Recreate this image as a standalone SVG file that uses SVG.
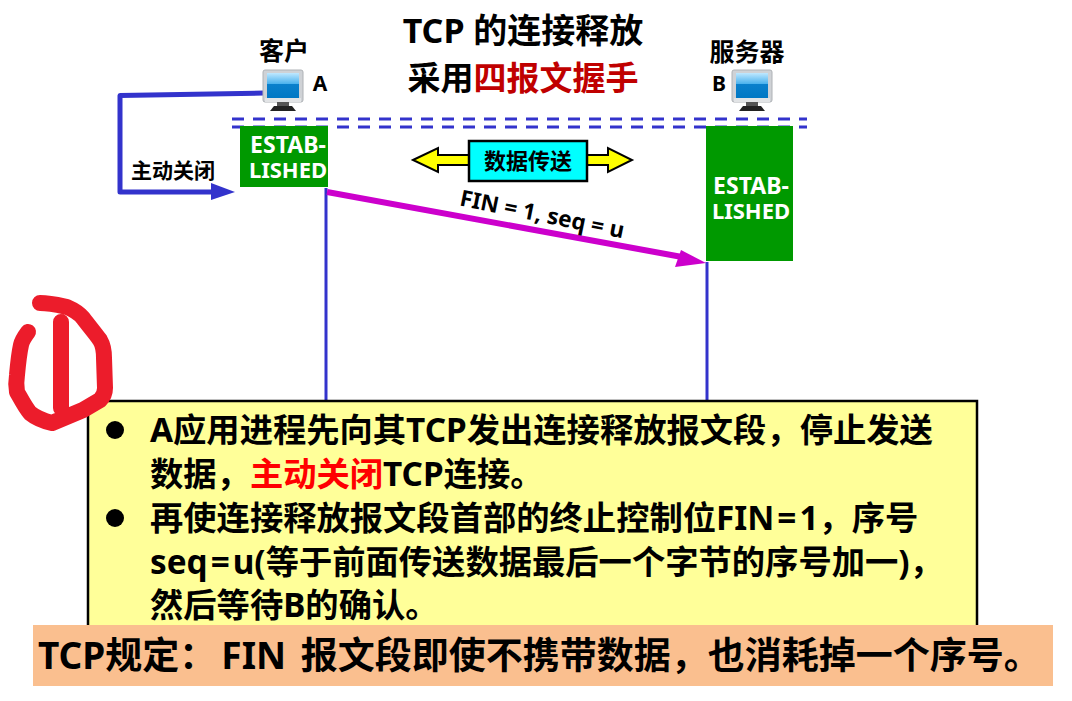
<svg xmlns="http://www.w3.org/2000/svg" width="1072" height="701" viewBox="0 0 1072 701">
<style>
text{font-family:"Noto Sans","Noto Sans CJK SC",sans-serif;font-weight:700;fill:#000}
.w{fill:#fff;font-size:22px}
.body{font-size:33.300px}
.red{fill:#f00}
.life{stroke:#3333cc;stroke-width:3;fill:none}
.dash{stroke:#3333cc;stroke-width:3;stroke-dasharray:12 9;fill:none}
.bul{fill:#000}
</style>
<defs>
<linearGradient id="scr" x1="0" y1="0" x2="0" y2="1"><stop offset="0" stop-color="#bfe8ff"/><stop offset="0.42" stop-color="#4fb4ee"/><stop offset="0.45" stop-color="#0a80cc"/><stop offset="1" stop-color="#0078c4"/></linearGradient>
<g id="pc">
<rect x="0" y="0" width="40" height="32" rx="2" fill="#cfd2d6" stroke="#aeb2b6"/>
<rect x="4" y="3" width="32" height="25" fill="url(#scr)"/>
<rect x="2" y="28" width="36" height="4" fill="#e2e4e6"/>
<rect x="14" y="32" width="12" height="4" fill="#555"/>
<path d="M7 41 L11 36 H29 L33 41 Z" fill="#222"/>
</g>
</defs>
<rect width="1072" height="701" fill="#fff"/>

<g id="title">
<text x="523" y="43" font-size="34" text-anchor="middle">TCP 的连接释放</text>
<text x="523" y="90" font-size="33" text-anchor="middle">采用<tspan fill="#c00000">四报文握手</tspan></text>
</g>

<g id="connectors">
<line class="dash" x1="232" y1="119" x2="807" y2="119"/>
<line class="dash" x1="232" y1="127" x2="807" y2="127"/>
<path class="life" d="M326 188 V401"/>
<path class="life" d="M707 262 V401"/>
<path d="M264 93 L120 95.500 V192 H212" fill="none" stroke="#3333cc" stroke-width="5" stroke-linejoin="round"/>
<path d="M211 183 L235 192 L211 200 Z" fill="#3333cc"/>
<path d="M327 192 L682 257" fill="none" stroke="#cc00cc" stroke-width="6"/>
<path d="M681 250 L706 263 L675 267 Z" fill="#cc00cc"/>
</g>

<g id="client">
<text x="284" y="60" font-size="25" text-anchor="middle">客户</text>
<use href="#pc" x="263" y="70"/>
<text x="320" y="91" font-size="21" text-anchor="middle">A</text>
</g>
<g id="server">
<text x="747" y="61" font-size="25" text-anchor="middle">服务器</text>
<use href="#pc" x="732" y="70"/>
<text x="719" y="91" font-size="21" text-anchor="middle">B</text>
</g>

<g id="state-a">
<rect x="240" y="126" width="88" height="61" fill="#009900"/>
<text class="w" x="288" y="153" text-anchor="middle" style="font-size:23px">ESTAB-</text>
<text class="w" x="288" y="178" text-anchor="middle" style="font-size:22px">LISHED</text>
</g>
<g id="state-b">
<rect x="706" y="126" width="87" height="135" fill="#009900"/>
<text class="w" x="751" y="194" text-anchor="middle" style="font-size:23px">ESTAB-</text>
<text class="w" x="751" y="219" text-anchor="middle" style="font-size:22px">LISHED</text>
</g>

<g id="close-label">
<text x="173" y="178" font-size="21" text-anchor="middle">主动关闭</text>
</g>

<g id="data-transfer">
<path d="M413 160 L438 148 V155 H608 V148 L632 160 L608 172 V165 H438 V172 Z" fill="#ffff00" stroke="#000" stroke-width="2"/>
<rect x="469" y="141" width="118" height="40" fill="#00ffff" stroke="#000" stroke-width="2.500"/>
<text x="528" y="169" font-size="22" text-anchor="middle">数据传送</text>
</g>

<g id="fin-label">
<text x="542" y="222" font-size="22.500" text-anchor="middle" transform="rotate(11.500 542 215)">FIN = 1, seq = u</text>
</g>

<g id="note">
<rect x="88" y="401" width="889" height="230" fill="#ffff99" stroke="#000" stroke-width="2.500"/>
<circle cx="115" cy="430" r="9" class="bul"/>
<circle cx="115" cy="518" r="9" class="bul"/>
<text class="body" x="150" y="442">A应用进程先向其TCP发出连接释放报文段，停止发送</text>
<text class="body" x="150" y="486">数据，<tspan class="red">主动关闭</tspan>TCP连接。</text>
<text class="body" x="150" y="530">再使连接释放报文段首部的终止控制位FIN<tspan dx="3">=</tspan><tspan dx="3">1</tspan>，序号</text>
<text class="body" x="150" y="574">seq<tspan dx="3">=</tspan><tspan dx="3">u</tspan>(等于前面传送数据最后一个字节的序号加一)，</text>
<text class="body" x="150" y="617">然后等待B的确认。</text>
</g>

<path id="handwritten-mark" d="M40 303 C50 303 58 305 67 307 C74 310 79 313 83 318 C89 326 95 333 100 340 C103 345 104 351 104 358 L105 388 C105 393 103 397 100 400 L83 410 L52 423 C44 421 36 418 30 413 C25 407 21 399 17 392 C16 386 16 381 17 375 C18 364 19 354 21 345 C22 340 25 336 28 332 M61 322 V408" fill="none" stroke="#ec1c2b" stroke-width="16" stroke-linecap="round" stroke-linejoin="round"/>

<g id="rule">
<rect x="33" y="625" width="1020" height="61" fill="#fabf8f"/>
<text x="38" y="669" font-size="37">TCP规定：<tspan dx="5">FIN</tspan> <tspan dx="5">报</tspan>文段即使不携带数据，也消耗掉一个序号。</text>
</g>
</svg>
